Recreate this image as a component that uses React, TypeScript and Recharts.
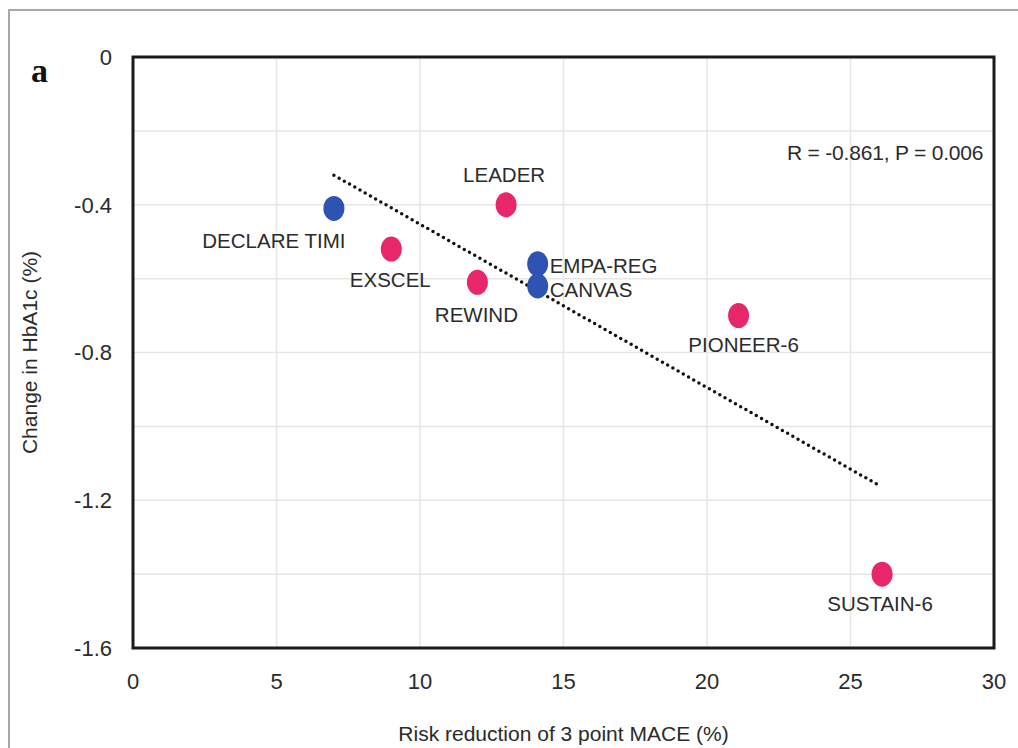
import React from 'react';
import {
  ScatterChart,
  Scatter,
  XAxis,
  YAxis,
  CartesianGrid,
  ReferenceLine,
  ReferenceArea,
  Label,
} from 'recharts';

// ── Data ────────────────────────────────────────────────────────────────────
const SGLT2_TRIALS = ['DECLARE TIMI', 'EMPA-REG', 'CANVAS'];
const SGLT2_MACE = [7, 14.1, 14.1];
const SGLT2_HBA1C = [-0.41, -0.56, -0.62];

const GLP1_TRIALS = ['LEADER', 'EXSCEL', 'REWIND', 'PIONEER-6', 'SUSTAIN-6'];
const GLP1_MACE = [13, 9, 12, 21.1, 26.1];
const GLP1_HBA1C = [-0.4, -0.52, -0.61, -0.7, -1.4];

// regression line end points
const TREND_X = [7, 26];
const TREND_Y = [-0.32, -1.16];

const X_TICKS = [0, 5, 10, 15, 20, 25, 30];
const Y_TICKS = [0, -0.4, -0.8, -1.2, -1.6];
const Y_GRID = [-0.2, -0.4, -0.6, -0.8, -1.0, -1.2, -1.4];
const X_GRID = [5, 10, 15, 20, 25];

const STATS_TEXT = 'R = -0.861, P = 0.006';

// ── Styling ─────────────────────────────────────────────────────────────────
const C = {
  blue: '#2f53b3',
  pink: '#e8266b',
  text: '#2b2b2b',
  grid: '#e6e6e6',
  frame: '#1a1a1a',
};
const FONT = '"Liberation Sans", Arial, sans-serif';

// where each label sits relative to its dot
const LABEL_POS: Record<string, { dx: number; dy: number; anchor: 'start' | 'middle' | 'end' }> = {
  'DECLARE TIMI': { dx: -60, dy: 40, anchor: 'middle' },
  'EMPA-REG': { dx: 12, dy: 9, anchor: 'start' },
  CANVAS: { dx: 12, dy: 11, anchor: 'start' },
  LEADER: { dx: -2, dy: -23, anchor: 'middle' },
  EXSCEL: { dx: -1, dy: 38, anchor: 'middle' },
  REWIND: { dx: -1, dy: 40, anchor: 'middle' },
  'PIONEER-6': { dx: 5, dy: 36, anchor: 'middle' },
  'SUSTAIN-6': { dx: -2, dy: 37, anchor: 'middle' },
};

const toPoints = (names: string[], xs: number[], ys: number[]) =>
  names.map((name, i) => ({ name, x: xs[i], y: ys[i] }));

const sglt2 = toPoints(SGLT2_TRIALS, SGLT2_MACE, SGLT2_HBA1C);
const glp1 = toPoints(GLP1_TRIALS, GLP1_MACE, GLP1_HBA1C);

function Dot(props: any, color: string) {
  const { cx, cy, payload } = props;
  const pos = LABEL_POS[payload.name];
  return (
    <g>
      <ellipse cx={cx} cy={cy} rx={10.5} ry={12.5} fill={color} />
      <text
        x={cx + pos.dx}
        y={cy + pos.dy}
        textAnchor={pos.anchor}
        fontFamily={FONT}
        fontSize={20.5}
        fill={C.text}
      >
        {payload.name}
      </text>
    </g>
  );
}

export default function App() {
  return (
    <div
      style={{
        position: 'absolute',
        left: 0,
        top: 0,
        width: 1018,
        height: 748,
        background: '#fff',
        overflow: 'hidden',
        fontFamily: FONT,
      }}
    >
      {/* outer panel border */}
      <div
        style={{
          position: 'absolute',
          left: 8,
          top: 9,
          width: 1030,
          height: 760,
          border: '2px solid #a8a8a8',
        }}
      />
      <div
        style={{
          position: 'absolute',
          left: 31,
          top: 52,
          fontFamily: '"Liberation Serif", "DejaVu Serif", serif',
          fontWeight: 'bold',
          fontSize: 34,
          color: '#111',
        }}
      >
        a
      </div>
      <div style={{ position: 'absolute', left: 0, top: 0 }}>
        <ScatterChart
          width={1018}
          height={748}
          margin={{ top: 57, right: 24, bottom: 40, left: 40 }}
        >
          <CartesianGrid
            stroke={C.grid}
            strokeWidth={1.5}
            horizontalValues={Y_GRID}
            verticalValues={X_GRID}
          />
          <XAxis
            type="number"
            dataKey="x"
            domain={[0, 30]}
            ticks={X_TICKS}
            height={60}
            tickSize={0}
            tickMargin={25}
            axisLine={false}
            tick={{ fill: C.text, fontSize: 22, fontFamily: FONT }}
          >
            <Label
              value="Risk reduction of 3 point MACE (%)"
              position="insideBottom"
              offset={-33}
              fill={C.text}
              fontSize={21}
              fontFamily={FONT}
            />
          </XAxis>
          <YAxis
            type="number"
            dataKey="y"
            domain={[-1.6, 0]}
            ticks={Y_TICKS}
            width={93}
            tickSize={0}
            tickMargin={21}
            axisLine={false}
            tick={{ fill: C.text, fontSize: 22, fontFamily: FONT }}
          >
            <Label
              value="Change in HbA1c (%)"
              angle={-90}
              position="insideLeft"
              offset={-10}
              style={{ textAnchor: 'middle' }}
              fill={C.text}
              fontSize={21}
              fontFamily={FONT}
            />
          </YAxis>
          <ReferenceArea
            x1={0}
            x2={30}
            y1={-1.6}
            y2={0}
            fill="none"
            stroke={C.frame}
            strokeWidth={3}
            ifOverflow="visible"
          />
          <ReferenceLine
            segment={[
              { x: TREND_X[0], y: TREND_Y[0] },
              { x: TREND_X[1], y: TREND_Y[1] },
            ]}
            stroke="#111"
            strokeWidth={3.5}
            strokeDasharray="0 6"
            strokeLinecap="round"
          />
          <Scatter
            data={glp1}
            isAnimationActive={false}
            shape={(p: any) => Dot(p, C.pink)}
          />
          <Scatter
            data={sglt2}
            isAnimationActive={false}
            shape={(p: any) => Dot(p, C.blue)}
          />
        </ScatterChart>
      </div>
      <div
        style={{
          position: 'absolute',
          left: 787,
          top: 141,
          fontSize: 21,
          color: C.text,
          whiteSpace: 'nowrap',
          letterSpacing: -0.2,
        }}
      >
        {STATS_TEXT}
      </div>
    </div>
  );
}
